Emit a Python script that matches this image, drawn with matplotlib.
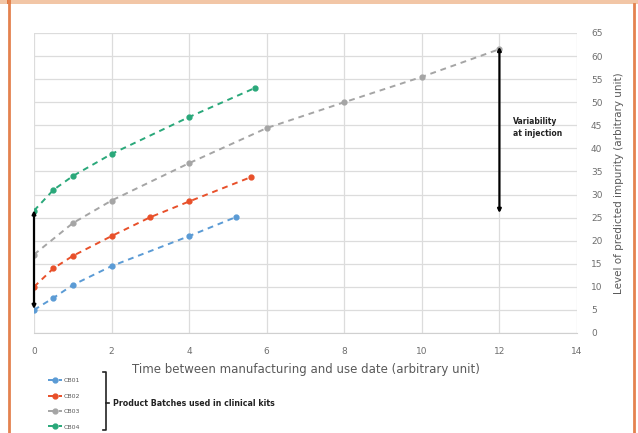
import matplotlib
matplotlib.use('Agg')
from matplotlib import pyplot as plt
from matplotlib.lines import Line2D
from matplotlib.patches import Rectangle

# data
t_cb01 = [0, 0.5, 1, 2, 4, 5.2]
y_cb01 = [5, 7.6, 10.4, 14.5, 21, 25.1]
t_cb02 = [0, 0.5, 1, 2, 3, 4, 5.6]
y_cb02 = [10, 14, 16.7, 21, 25.1, 28.5, 33.8]
t_cb03 = [0, 1, 2, 4, 6, 8, 10, 12]
y_cb03 = [17, 23.8, 28.7, 36.8, 44.4, 50, 55.5, 61.5]
t_cb04 = [0, 0.5, 1, 2, 4, 5.7]
y_cb04 = [26.5, 31, 34, 38.8, 46.8, 53.1]
names = ['CB01', 'CB02', 'CB03', 'CB04']
colors = ['#5b9bd5', '#e8502a', '#a5a5a5', '#2aa87a']

# variability arrows (x, low, high)
arrow_left = (0, 5.2, 26.6)
arrow_right = (12, 26, 62)

txt = '#595959'
fig = plt.figure(figsize=(6.38, 4.33), dpi=100)
ax = fig.add_axes([34/638, 1-333/433, 543/638, 300/433])

series = [(t_cb01, y_cb01), (t_cb02, y_cb02), (t_cb03, y_cb03), (t_cb04, y_cb04)]
handles = []
for (t, y), c, n in zip(series, colors, names):
    h, = ax.plot(t, y, ls=(0, (3, 2.5)), lw=1.4, color=c, marker='o', ms=3.5, label=n)
    handles.append(h)

for x, lo, hi in (arrow_left, arrow_right):
    ax.annotate('', xy=(x, hi), xytext=(x, lo),
                arrowprops=dict(arrowstyle='<|-|>', color='black', lw=1.6,
                                mutation_scale=5, shrinkA=0, shrinkB=0))

ax.text(12.35, 44.5, 'Variability\nat injection', fontsize=5.5, fontweight='bold',
        color='#222222', va='center', ha='left', linespacing=1.5)

ax.set_xlim(0, 14)
ax.set_ylim(0, 65)
ax.set_xticks(range(0, 15, 2))
ax.set_yticks(range(0, 66, 5))
ax.yaxis.tick_right()
ax.yaxis.set_label_position('right')
ax.grid(True, color='#dcdcdc', lw=0.9)
ax.set_axisbelow(True)
for s in ax.spines.values():
    s.set_visible(False)
ax.spines['bottom'].set_visible(True)
ax.spines['bottom'].set_color('#d0d0d0')
ax.tick_params(length=0, labelsize=6.5, labelcolor='#6e6e6e', pad=10)
ax.tick_params(axis='y', pad=10)
ax.set_xlabel('Time between manufacturing and use date (arbitrary unit)',
              fontsize=8.5, color=txt, labelpad=5)
ax.set_ylabel('Level of predicted impurity (arbitrary unit)', fontsize=7.5,
              color=txt, labelpad=8)

leg = fig.legend(handles=handles, loc='upper left', bbox_to_anchor=(45/638, 1-375/433),
                 frameon=False, fontsize=4.5, handlelength=2.2, labelspacing=1.6,
                 borderpad=0, handletextpad=0.3)
for t in leg.get_texts():
    t.set_color(txt)

# bracket beside the legend
bx = 106/638
fig.add_artist(Line2D([bx - 3/638, bx, bx, bx - 3/638],
                      [1-372/433, 1-372/433, 1-430/433, 1-430/433],
                      color='#222222', lw=1.2))
fig.add_artist(Line2D([bx, bx + 3/638], [1-403/433, 1-403/433], color='#222222', lw=1.2))
fig.text(113/638, 1-403/433, 'Product Batches used in clinical kits', fontsize=5.7,
         fontweight='bold', color='#222222', va='center')

# page frame
fig.add_artist(Rectangle((0, 1-4/433), 1, 4/433, transform=fig.transFigure,
                         color='#f2c6a6', lw=0))
fig.add_artist(Rectangle((7/638, 1-4/433), 4/638, 4/433, transform=fig.transFigure,
                         color='#e07a45', lw=0))
fig.add_artist(Line2D([9/638, 9/638], [0, 1], color='#e4824f', lw=2))
fig.add_artist(Line2D([634/638, 634/638], [0, 1-4/433], color='#e4824f', lw=2))

plt.savefig('out.png', dpi=100)
